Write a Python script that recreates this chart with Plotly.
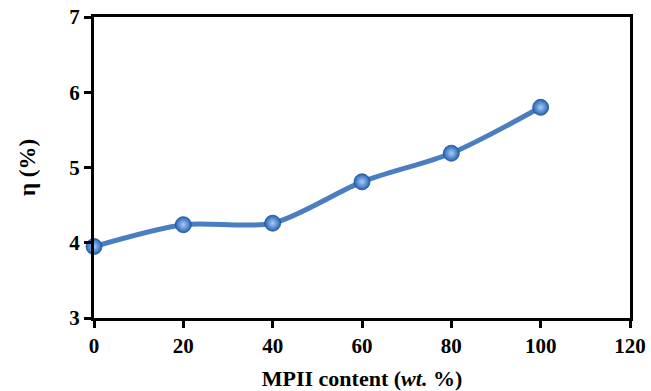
import plotly.graph_objects as go

# MPII content (wt. %) and efficiency η (%)
mpii_content = [0, 20, 40, 60, 80, 100]
eta = [3.95, 4.24, 4.26, 4.81, 5.19, 5.80]

x_ticks = [0, 20, 40, 60, 80, 100, 120]
y_ticks = [3, 4, 5, 6, 7]

font_family = "Liberation Serif"

fig = go.Figure()

fig.add_trace(go.Scatter(
    x=mpii_content,
    y=eta,
    mode="lines+markers",
    line=dict(shape="spline", smoothing=0.8, color="#4a7ec0", width=5),
    marker=dict(
        size=16,
        color="#2462b4",
        gradient=dict(type="radial", color="#a9cdf5"),
        line=dict(width=0.8, color="#1d4f90"),
    ),
    showlegend=False,
    cliponaxis=False,
))

axis_common = dict(
    showline=True,
    linewidth=3,
    linecolor="black",
    mirror=True,
    showgrid=False,
    zeroline=False,
    ticks="outside",
    ticklen=7,
    tickwidth=2.5,
    tickcolor="black",
    tickfont=dict(family=font_family, size=21, color="black"),
    automargin=False,
)

fig.update_xaxes(
    range=[0, 120],
    tickvals=x_ticks,
    ticktext=[f"<b>{v}</b>" for v in x_ticks],
    title=dict(
        text="<b>MPII content (<i>wt.</i> %)</b>",
        font=dict(family=font_family, size=22, color="black"),
        standoff=16,
    ),
    **axis_common,
)
fig.update_yaxes(
    range=[3, 7],
    tickvals=y_ticks,
    ticktext=[f"<b>{v}</b>" for v in y_ticks],
    title=dict(
        text="<b>η (%)</b>",
        font=dict(family=font_family, size=23, color="black"),
        standoff=28,
    ),
    **axis_common,
)

fig.update_layout(
    width=651,
    height=391,
    margin=dict(l=94, r=21, t=17, b=73),
    paper_bgcolor="white",
    plot_bgcolor="white",
)

fig.write_html("out.html")
